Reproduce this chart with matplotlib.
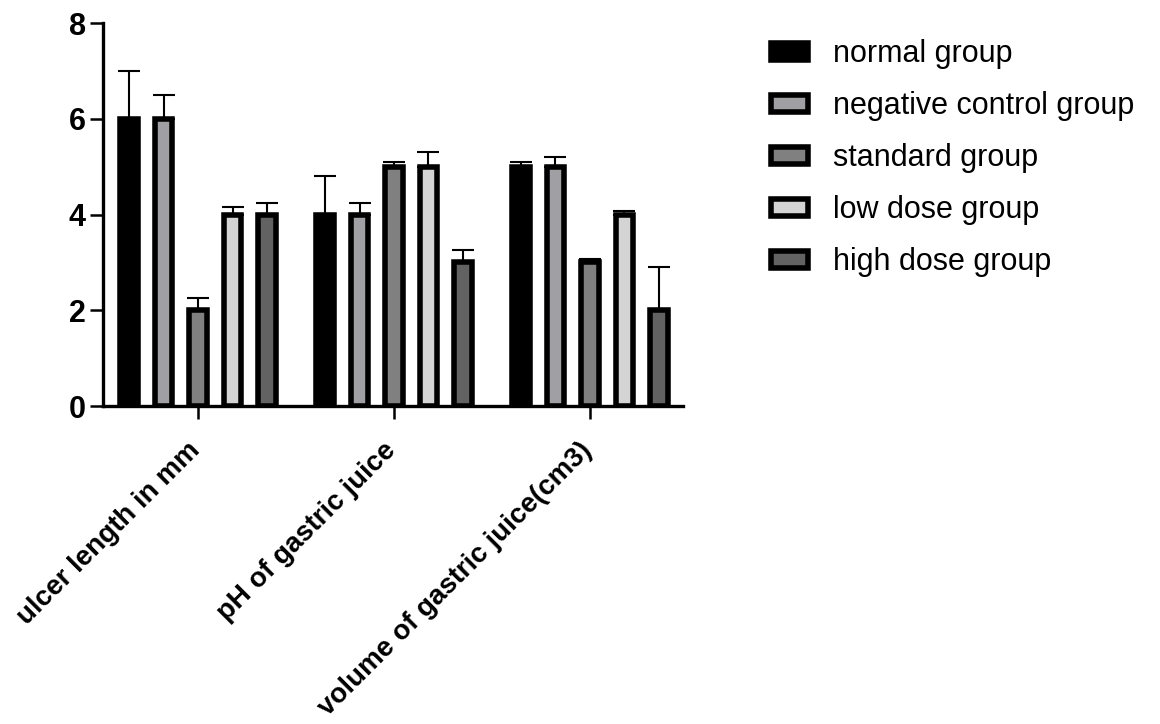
import numpy as np
import matplotlib
matplotlib.use("Agg")
import matplotlib.pyplot as plt
from matplotlib.transforms import ScaledTranslation

plt.rcParams['font.family'] = ['Liberation Sans', 'DejaVu Sans']

categories = ["ulcer length in mm", "pH of gastric juice", "volume of gastric juice(cm3)"]
groups = ["normal group", "negative control group", "standard group", "low dose group", "high dose group"]
colors = ["#000000", "#A0A0A4", "#808080", "#D4D4D4", "#626262"]

# mean values per group, one entry per category
means = {
    "normal group":           [6, 4, 5],
    "negative control group": [6, 4, 5],
    "standard group":         [2, 5, 3],
    "low dose group":         [4, 5, 4],
    "high dose group":        [4, 3, 2],
}
# upper error (SD) per group
errors = {
    "normal group":           [1.0, 0.8, 0.1],
    "negative control group": [0.5, 0.25, 0.2],
    "standard group":         [0.25, 0.1, 0.08],
    "low dose group":         [0.15, 0.3, 0.07],
    "high dose group":        [0.25, 0.25, 0.9],
}

fig = plt.figure(figsize=(11.6, 7.24), dpi=100)
ax = fig.add_axes([0.0888, 0.4392, 0.5, 0.529])

x = np.arange(len(categories))
step = 0.176
width = 0.09

for i, g in enumerate(groups):
    pos = x + (i - 2) * step
    err = np.array(errors[g])
    ax.errorbar(pos, means[g], yerr=[np.zeros_like(err), err], fmt='none',
                ecolor='black', elinewidth=1.5, capsize=8, capthick=1.5, zorder=1)
    ax.bar(pos, means[g], width=width, color=colors[i], edgecolor='black',
           linewidth=4, label=g, zorder=2)

ax.set_xlim(-0.485, 2.475)
ax.set_ylim(0, 8)
ax.set_yticks([0, 2, 4, 6, 8])
ax.set_xticks(x)
ax.set_xticklabels(categories, rotation=45, ha='right')

for side in ['top', 'right']:
    ax.spines[side].set_visible(False)
for side in ['left', 'bottom']:
    ax.spines[side].set_linewidth(2.4)

ax.tick_params(axis='both', direction='out', length=9.5, width=1.8)
ax.tick_params(axis='y', pad=3, labelsize=22)
ax.tick_params(axis='x', pad=13, labelsize=20)
for lab in ax.get_xticklabels() + ax.get_yticklabels():
    lab.set_fontweight('bold')
offset = ScaledTranslation(7 / 100, 0, fig.dpi_scale_trans)
for lab in ax.get_xticklabels():
    lab.set_transform(lab.get_transform() + offset)

fig.legend(loc='upper left', bbox_to_anchor=(0.665, 0.946), frameon=False,
           fontsize=22, handlelength=1.2, handleheight=0.5,
           handletextpad=0.8, labelspacing=0.72, borderpad=0, borderaxespad=0)

fig.savefig("out.png", dpi=100)
